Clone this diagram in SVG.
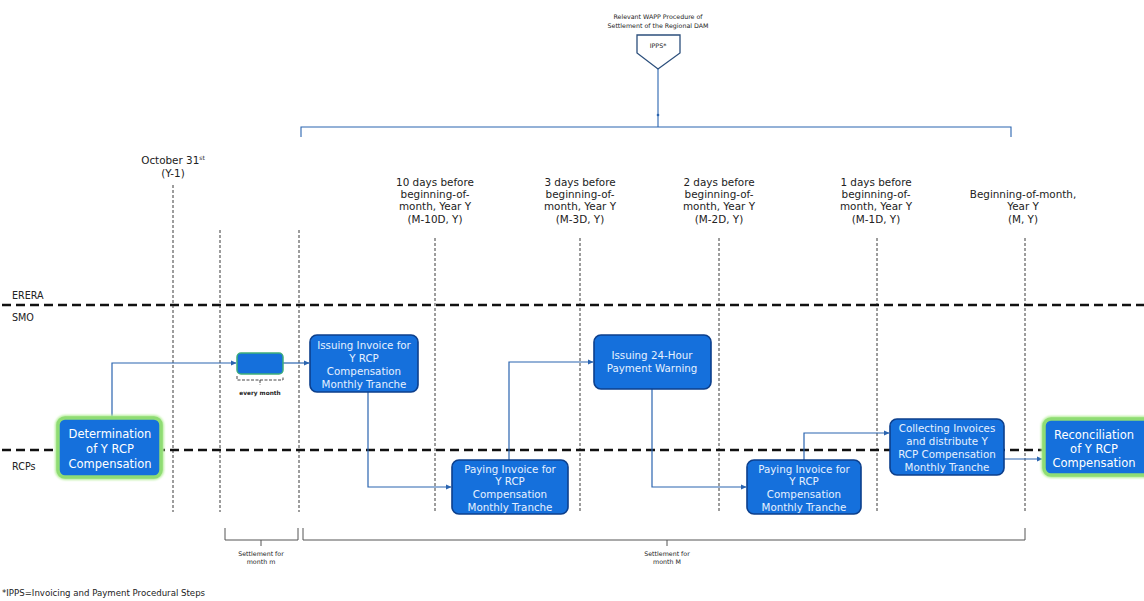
<svg xmlns="http://www.w3.org/2000/svg" width="1144" height="601" viewBox="0 0 1144 601">
  <defs>
    <marker id="arr" markerWidth="6" markerHeight="6" refX="5" refY="3" orient="auto" markerUnits="userSpaceOnUse">
      <path d="M0,0.5 L5.5,3 L0,5.5 z" fill="#2a64b0"/>
    </marker>
    <filter id="glow" x="-20%" y="-20%" width="140%" height="140%">
      <feGaussianBlur stdDeviation="1.2"/>
    </filter>
  </defs>
  <style>
    .lbl { font-family: "DejaVu Sans", Verdana, sans-serif; font-size: 10.4px; fill: #222; text-anchor: middle; }
    .lane { font-family: "DejaVu Sans", Verdana, sans-serif; font-size: 9.6px; fill: #222; }
    .tiny { font-family: "DejaVu Sans", Verdana, sans-serif; font-size: 6.3px; fill: #222; text-anchor: middle; }
    .box { fill: #1570dc; stroke: #0c3f8c; stroke-width: 1.6; }
    .gbox { fill: #1570dc; stroke: #8fdc74; stroke-width: 3.5; }
    .btxt { font-family: "DejaVu Sans", Verdana, sans-serif; font-size: 10.3px; fill: #e6f0ff; text-anchor: middle; }
    .gtxt { font-family: "DejaVu Sans", Verdana, sans-serif; font-size: 11.5px; fill: #ffffff; text-anchor: middle; }
    .vdash { stroke: #3a3a3a; stroke-width: 1; stroke-dasharray: 3 2; fill: none; }
    .hdash { stroke: #111; stroke-width: 2.6; stroke-dasharray: 9 5; fill: none; }
    .conn { stroke: #2a64b0; stroke-width: 1.2; fill: none; }
    .brk { stroke: #555; stroke-width: 1; fill: none; }
  </style>

  <rect width="1144" height="601" fill="#ffffff"/>

  <!-- WAPP procedure header -->
  <g id="ipps">
    <text class="tiny" x="658" y="19">Relevant WAPP Procedure of</text>
    <text class="tiny" x="658" y="28">Settlement of the Regional DAM</text>
    <path d="M637,35 H680 V53 L658,69 L637,53 Z" fill="#ffffff" stroke="#2c4f7c" stroke-width="1.3"/>
    <text class="tiny" x="658" y="48">IPPS*</text>
    <path d="M658,69 V127" stroke="#2a64b0" stroke-width="1.1"/>
    <circle cx="658" cy="115" r="1.3" fill="#2a64b0"/>
    <path d="M301,137 V127 H1011 V137" stroke="#2a64b0" stroke-width="1.1" fill="none"/>
  </g>

  <!-- milestone labels -->
  <g id="milestones">
    <text class="lbl" x="173" y="164">October 31<tspan font-size="6" dy="-4">st</tspan></text>
    <text class="lbl" x="173" y="177">(Y-1)</text>

    <text class="lbl" x="435" y="186">10 days before</text>
    <text class="lbl" x="435" y="198">beginning-of-</text>
    <text class="lbl" x="435" y="210">month, Year Y</text>
    <text class="lbl" x="435" y="223">(M-10D, Y)</text>

    <text class="lbl" x="580" y="186">3 days before</text>
    <text class="lbl" x="580" y="198">beginning-of-</text>
    <text class="lbl" x="580" y="210">month, Year Y</text>
    <text class="lbl" x="580" y="223">(M-3D, Y)</text>

    <text class="lbl" x="719" y="186">2 days before</text>
    <text class="lbl" x="719" y="198">beginning-of-</text>
    <text class="lbl" x="719" y="210">month, Year Y</text>
    <text class="lbl" x="719" y="223">(M-2D, Y)</text>

    <text class="lbl" x="876" y="186">1 days before</text>
    <text class="lbl" x="876" y="198">beginning-of-</text>
    <text class="lbl" x="876" y="210">month, Year Y</text>
    <text class="lbl" x="876" y="223">(M-1D, Y)</text>

    <text class="lbl" x="1023" y="198">Beginning-of-month,</text>
    <text class="lbl" x="1023" y="210">Year Y</text>
    <text class="lbl" x="1023" y="223">(M, Y)</text>
  </g>

  <!-- time grid -->
  <g id="grid">
    <path class="vdash" d="M173,185 V512"/>
    <path class="vdash" d="M220,230 V512"/>
    <path class="vdash" d="M299,230 V512"/>
    <path class="vdash" d="M435,238 V512"/>
    <path class="vdash" d="M580,238 V512"/>
    <path class="vdash" d="M719,238 V512"/>
    <path class="vdash" d="M877,238 V512"/>
    <path class="vdash" d="M1025,238 V512"/>
    <path class="hdash" d="M2,305 H1144"/>
    <path class="hdash" d="M2,450 H1144"/>
  </g>

  <!-- swimlane names -->
  <g id="lanes">
    <text class="lane" x="12" y="299">ERERA</text>
    <text class="lane" x="12" y="321">SMO</text>
    <text class="lane" x="12" y="470">RCPs</text>
  </g>

  <!-- connectors -->
  <g id="connectors">
    <path class="conn" d="M112,418 V363 H236" marker-end="url(#arr)"/>
    <path class="conn" d="M283,363 H309" marker-end="url(#arr)"/>
    <path class="conn" d="M368,392 V487 H451" marker-end="url(#arr)"/>
    <path class="conn" d="M509,460 V362 H593" marker-end="url(#arr)"/>
    <path class="conn" d="M652,389 V487 H746" marker-end="url(#arr)"/>
    <path class="conn" d="M804,460 V433 H889" marker-end="url(#arr)"/>
    <path class="conn" d="M1004,459 H1042" marker-end="url(#arr)"/>
  </g>

  <!-- process steps -->
  <g id="determination">
    <rect x="58" y="418" width="103" height="59" rx="7" fill="none" stroke="#b6ef9a" stroke-width="6" filter="url(#glow)"/>
    <rect class="gbox" x="58" y="418" width="103" height="59" rx="7"/>
    <text class="gtxt" x="110" y="438">Determination</text>
    <text class="gtxt" x="110" y="453">of Y RCP</text>
    <text class="gtxt" x="110" y="468">Compensation</text>
  </g>

  <g id="monthly-step">
    <rect x="237" y="353" width="46" height="21" rx="4" fill="#1570dc" stroke="#3fae7a" stroke-width="1.5"/>
    <path d="M237,376 V380 H283 V376 M260,380 V385" stroke="#333" stroke-width="0.9" fill="none" stroke-dasharray="3 1.5"/>
    <text x="260" y="395" font-family="DejaVu Sans, Verdana, sans-serif" font-size="5.8" font-weight="bold" fill="#222" text-anchor="middle">every month</text>
  </g>

  <g id="issuing-invoice">
    <rect class="box" x="310" y="335" width="108" height="57" rx="7"/>
    <text class="btxt" x="364" y="349">Issuing Invoice for</text>
    <text class="btxt" x="364" y="362">Y RCP</text>
    <text class="btxt" x="364" y="375">Compensation</text>
    <text class="btxt" x="364" y="388">Monthly Tranche</text>
  </g>

  <g id="paying-invoice-1">
    <rect class="box" x="452" y="460" width="116" height="54" rx="7"/>
    <text class="btxt" x="510" y="473">Paying Invoice for</text>
    <text class="btxt" x="510" y="485">Y RCP</text>
    <text class="btxt" x="510" y="498">Compensation</text>
    <text class="btxt" x="510" y="511">Monthly Tranche</text>
  </g>

  <g id="payment-warning">
    <rect class="box" x="594" y="335" width="117" height="54" rx="7"/>
    <text class="btxt" x="652" y="359">Issuing 24-Hour</text>
    <text class="btxt" x="652" y="372">Payment Warning</text>
  </g>

  <g id="paying-invoice-2">
    <rect class="box" x="747" y="460" width="114" height="54" rx="7"/>
    <text class="btxt" x="804" y="473">Paying Invoice for</text>
    <text class="btxt" x="804" y="485">Y RCP</text>
    <text class="btxt" x="804" y="498">Compensation</text>
    <text class="btxt" x="804" y="511">Monthly Tranche</text>
  </g>

  <g id="collecting-invoices">
    <rect class="box" x="890" y="419" width="114" height="56" rx="7"/>
    <text class="btxt" x="947" y="432">Collecting Invoices</text>
    <text class="btxt" x="947" y="445">and distribute Y</text>
    <text class="btxt" x="947" y="458">RCP Compensation</text>
    <text class="btxt" x="947" y="471">Monthly Tranche</text>
  </g>

  <g id="reconciliation">
    <rect x="1044" y="419" width="110" height="56" rx="7" fill="none" stroke="#b6ef9a" stroke-width="6" filter="url(#glow)"/>
    <rect class="gbox" x="1044" y="419" width="110" height="56" rx="7"/>
    <text class="gtxt" x="1094" y="439">Reconciliation</text>
    <text class="gtxt" x="1094" y="453">of Y RCP</text>
    <text class="gtxt" x="1094" y="467">Compensation</text>
  </g>

  <!-- settlement periods -->
  <g id="settlement">
    <path class="brk" d="M225,528 V540 H298 V528 M261,540 V546"/>
    <text class="tiny" x="261" y="556">Settlement for</text>
    <text class="tiny" x="261" y="564">month m</text>
    <path class="brk" d="M303,528 V540 H1025 V528 M667,540 V546"/>
    <text class="tiny" x="667" y="556">Settlement for</text>
    <text class="tiny" x="667" y="564">month M</text>
  </g>

  <text x="2" y="596" font-family="DejaVu Sans, Verdana, sans-serif" font-size="8.6" fill="#222">*IPPS=Invoicing and Payment Procedural Steps</text>
</svg>
